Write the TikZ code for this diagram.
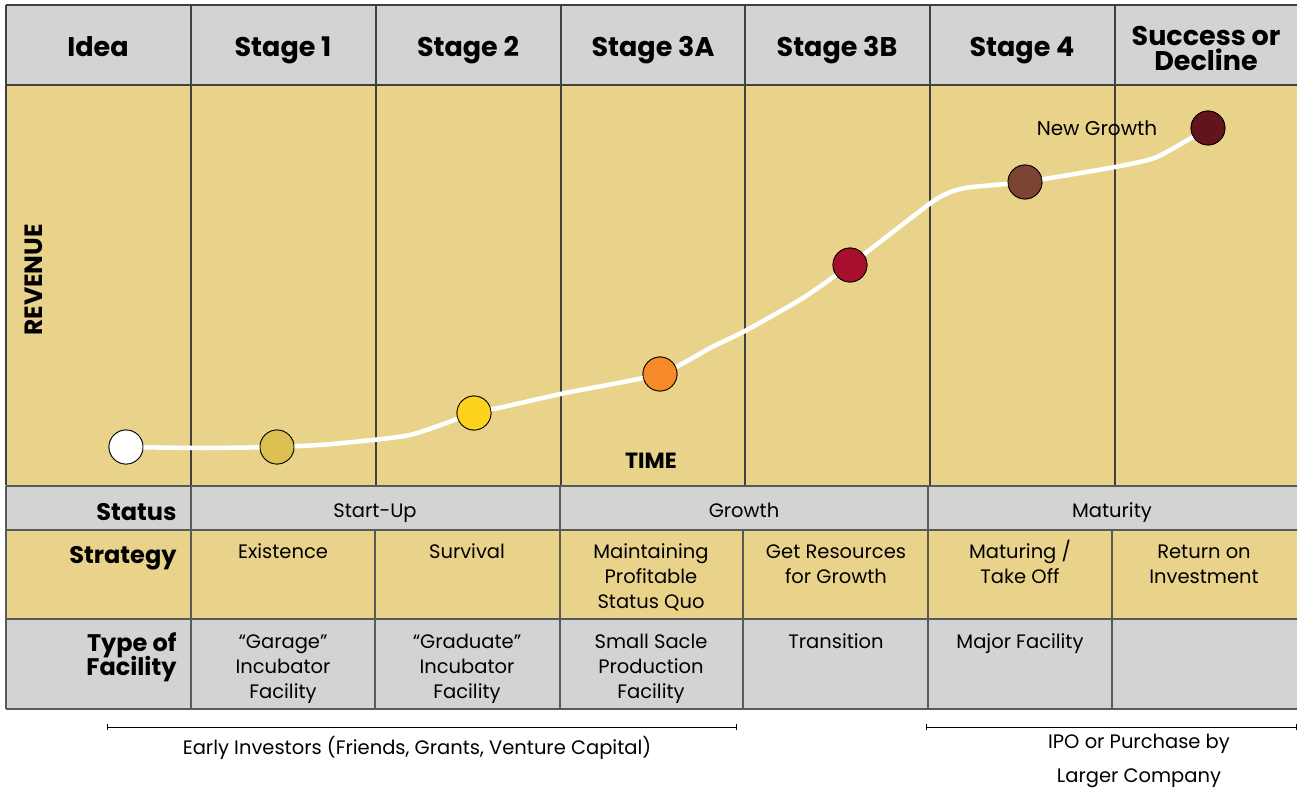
\documentclass[tikz,border=0pt]{standalone}
\usepackage{fontspec}
\setmainfont{Poppins}
\begin{document}
\begin{tikzpicture}[x=1pt,y=-1pt,
  hdr/.style={font=\fontsize{27}{24}\selectfont\bfseries, align=center, text=black, anchor=base},
  rowlab/.style={font=\fontsize{24}{22}\selectfont\bfseries, align=right, text=black},
  cell/.style={font=\fontsize{19.5}{25}\selectfont, align=center, anchor=base, text=black},
  stat/.style={font=\fontsize{19.5}{19}\selectfont, anchor=base, text=black},
  dot/.style={circle, draw=black, line width=0.8pt, minimum size=34pt, inner sep=0pt},
  grid/.style={draw=black!75, line width=1.2pt},
  tgrid/.style={draw=black!65, line width=1.6pt},
  note/.style={font=\fontsize{19.5}{34}\selectfont, align=center, text=black}
]
\definecolor{goldbg}{RGB}{233,211,139}
\definecolor{graybg}{RGB}{211,211,211}
\definecolor{c1}{RGB}{255,255,255}
\definecolor{c2}{RGB}{220,192,82}
\definecolor{c3}{RGB}{255,210,30}
\definecolor{c4}{RGB}{247,138,40}
\definecolor{c5}{RGB}{166,16,44}
\definecolor{c6}{RGB}{126,68,51}
\definecolor{c7}{RGB}{98,20,28}
\useasboundingbox (0,0) rectangle (1297,794);
\fill[white] (0,0) rectangle (1297,794);
% upper chart
\fill[graybg] (6,5) rectangle (1297,85);
\fill[goldbg] (6,85) rectangle (1297,485);
\draw[grid] (6,5) -- (1297,5);
\draw[grid] (6,85) -- (1297,85);
\draw[grid] (6,5) -- (6,485);
\foreach \x in {191,376,561,745,930,1115} \draw[grid] (\x,5) -- (\x,485);
% lower table
\fill[graybg] (6,487) rectangle (1297,530);
\fill[goldbg] (6,530) rectangle (1297,619);
\fill[graybg] (6,619) rectangle (1297,709);
\draw[tgrid] (6,486) -- (1297,486);
\draw[tgrid] (6,530) -- (1297,530);
\draw[tgrid] (6,619) -- (1297,619);
\draw[tgrid] (6,709) -- (1297,709);
\draw[tgrid] (6,486) -- (6,709);
\foreach \x in {191,560,928} \draw[tgrid] (\x,486) -- (\x,709);
\foreach \x in {375,743,1112} \draw[tgrid] (\x,530) -- (\x,709);
% header texts
\node[hdr] (h0) at (98,57) {Idea};
\node[hdr] (h1) at (283,57) {Stage 1};
\node[hdr] (h2) at (468,57) {Stage 2};
\node[hdr] (h3) at (653,57) {Stage 3A};
\node[hdr] (h4) at (837,57) {Stage 3B};
\node[hdr] (h5) at (1022,57) {Stage 4};
\node[font=\fontsize{27}{25}\selectfont\bfseries, align=center] (h6) at (1206,48) {Success or\\Decline};
% axis labels
\node[font=\fontsize{25}{25}\selectfont\bfseries, rotate=90] (rev) at (34,280) {REVENUE};
\node[font=\fontsize{22}{22}\selectfont\bfseries] (time) at (651,461) {TIME};
\node[font=\fontsize{20}{20}\selectfont] (ng) at (1097,128) {New Growth};
% curve dots
\node[dot, fill=c1] (d1) at (126,447) {};
\node[dot, fill=c2] (d2) at (277,447) {};
\node[dot, fill=c3] (d3) at (474,413) {};
\node[dot, fill=c4] (d4) at (660,374) {};
\node[dot, fill=c5] (d5) at (850,265) {};
\node[dot, fill=c6] (d6) at (1025,182) {};
\node[dot, fill=c7] (d7) at (1208,128) {};
\draw[white, line width=4.5pt, line cap=round] plot[smooth, tension=0.35] coordinates
  {(d1.center) (200,448) (d2.center) (332,444) (410,435) (d3.center) (503,407) (565,393) (d4.center) (712,347) (745,331) (803,298) (d5.center) (935,200) (965,188) (d6.center) (1115,167) (1157,157) (d7.center)};
\foreach \n/\c in {d1/c1,d2/c2,d3/c3,d4/c4,d5/c5,d6/c6,d7/c7}
  \node[dot, fill=\c] at (\n) {};
% row labels
\node[rowlab, anchor=base east] (ls) at (180,520) {Status};
\node[rowlab, anchor=base east] (lst) at (180,563) {Strategy};
\node[rowlab, anchor=east] (lf) at (180,657) {Type of\\[-3pt]Facility};
% status
\node[stat] (s1) at (375,517) {Start-Up};
\node[stat] (s2) at (744,517) {Growth};
\node[stat] (s3) at (1112,517) {Maturity};
% strategy (base = last line)
\node[cell] (t1) at (283,558) {Existence};
\node[cell] (t2) at (467,558) {Survival};
\node[cell] (t3) at (651,608) {Maintaining\\Profitable\\Status Quo};
\node[cell] (t4) at (836,583) {Get Resources\\for Growth};
\node[cell] (t5) at (1020,583) {Maturing /\\Take Off};
\node[cell] (t6) at (1204,583) {Return on\\Investment};
% facility
\node[cell] (f1) at (283,698) {``Garage''\\Incubator\\Facility};
\node[cell] (f2) at (467,698) {``Graduate''\\Incubator\\Facility};
\node[cell] (f3) at (651,698) {Small Sacle\\Production\\Facility};
\node[cell] (f4) at (836,648) {Transition};
\node[cell] (f5) at (1020,648) {Major Facility};
% brackets
\coordinate (b1a) at (107,727);
\coordinate (b1b) at (736,727);
\coordinate (b2a) at (926,727);
\coordinate (b2b) at (1296,727);
\draw[black, line width=1pt] (b1a) -- (b1b);
\draw[black, line width=1pt] ([yshift=-3pt]b1a) -- ([yshift=3pt]b1a);
\draw[black, line width=1pt] ([yshift=-3pt]b1b) -- ([yshift=3pt]b1b);
\draw[black, line width=1pt] (b2a) -- (b2b);
\draw[black, line width=1pt] ([yshift=-3pt]b2a) -- ([yshift=3pt]b2a);
\draw[black, line width=1pt] ([yshift=-3pt]b2b) -- ([yshift=3pt]b2b);
\node[note] (n1) at (417,748) {Early Investors (Friends, Grants, Venture Capital)};
\node[note] (n2) at (1139,761) {IPO or Purchase by\\Larger Company};
\end{tikzpicture}
\end{document}
